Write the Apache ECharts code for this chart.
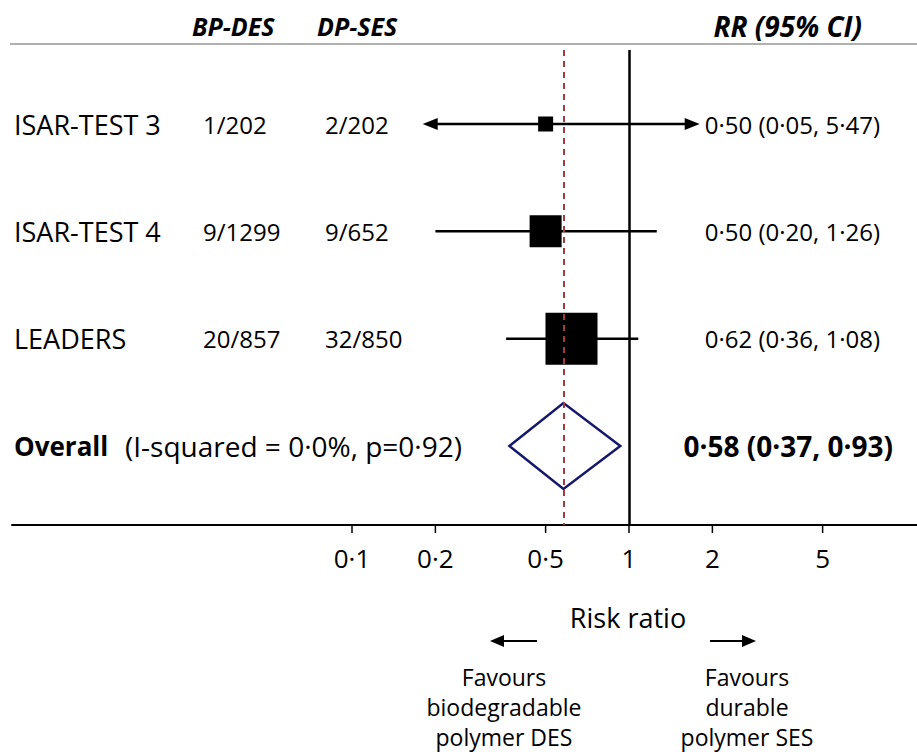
<!DOCTYPE html>
<html><head><meta charset="utf-8">
<script src="https://cdn.jsdelivr.net/npm/echarts@6/dist/echarts.min.js"></script>
<style>html,body{margin:0;padding:0;background:#fff}#c{width:917px;height:752px}</style>
</head><body><div id="c"></div>
<script>
// ---- data ----
const studies = ['ISAR-TEST 3', 'ISAR-TEST 4', 'LEADERS'];
const bpdesEvents = ['1/202', '9/1299', '20/857'];
const dpsesEvents = ['2/202', '9/652', '32/850'];
const rr = [0.50, 0.50, 0.62];
const ciLow = [0.05, 0.20, 0.36];
const ciHigh = [5.47, 1.26, 1.08];
const weights = [5.7, 25.9, 68.4];
const overallRR = 0.58, overallLow = 0.37, overallHigh = 0.93;
const overallLabel = '(I-squared = 0·0%, p=0·92)';
const tickValues = [0.1, 0.2, 0.5, 1, 2, 5];
const tickLabels = ['0·1', '0·2', '0·5', '1', '2', '5'];
const headers = ['BP-DES', 'DP-SES', 'RR (95% CI)'];

// ---- layout ----
const FONT = '"Open Sans", sans-serif';
const plotMin = 0.18, plotMax = 1.8;     // CI clipping range (arrows beyond)
const pxPerDecade = 277, oneX = 629, gridLeft = 12, W = 917;
const xMin = Math.pow(10, (gridLeft - oneX) / pxPerDecade);
const xMax = Math.pow(10, (W - oneX) / pxPerDecade);
const rowY0 = 124, rowStep = 107.33, gridTop = 50, axisY = 525;
const yMin = (gridTop - rowY0) / rowStep, yMax = (axisY - rowY0) / rowStep;
const fmt = v => v.toFixed(2).replace('.', '·');

const chart = echarts.init(document.getElementById('c'), null, {renderer: 'svg'});

const studyData = studies.map((s, i) => [rr[i], i, ciLow[i], ciHigh[i], weights[i]]);
const textData = studies.map((s, i) => [1, i]);

function studyRender(params, api) {
  const i = api.value(1);
  const c = api.coord([api.value(0), i]);
  const lo = api.value(2), hi = api.value(3);
  const pl = api.coord([Math.max(lo, plotMin), i]);
  const ph = api.coord([Math.min(hi, plotMax), i]);
  const AL = 15, AH = 6;
  const children = [];
  let x1 = pl[0], x2 = ph[0];
  if (lo < plotMin) {
    children.push({type: 'polygon', shape: {points: [[pl[0], pl[1]], [pl[0] + AL, pl[1] - AH], [pl[0] + AL, pl[1] + AH]]}, style: {fill: '#000'}});
    x1 = pl[0] + AL - 1;
  }
  if (hi > plotMax) {
    children.push({type: 'polygon', shape: {points: [[ph[0], ph[1]], [ph[0] - AL, ph[1] - AH], [ph[0] - AL, ph[1] + AH]]}, style: {fill: '#000'}});
    x2 = ph[0] - AL + 1;
  }
  children.push({type: 'line', shape: {x1: x1, y1: c[1], x2: x2, y2: c[1]}, style: {stroke: '#000', lineWidth: 2.5}});
  const s = 6.29 * Math.sqrt(api.value(4));
  children.push({type: 'rect', shape: {x: c[0] - s / 2, y: c[1] - s / 2, width: s, height: s}, style: {fill: '#000'}});
  return {type: 'group', children: children};
}

function textRender(params, api) {
  const i = params.dataIndex;
  const y = api.coord([1, i])[1];
  return {type: 'group', children: [
    {type: 'text', style: {x: 14, y: y, text: studies[i], fill: '#000', fontSize: 27, fontFamily: FONT, align: 'left', verticalAlign: 'middle'}},
    {type: 'text', style: {x: 203, y: y, text: bpdesEvents[i], fill: '#000', fontSize: 24, fontFamily: FONT, align: 'left', verticalAlign: 'middle'}},
    {type: 'text', style: {x: 325, y: y, text: dpsesEvents[i], fill: '#000', fontSize: 24, fontFamily: FONT, align: 'left', verticalAlign: 'middle'}},
    {type: 'text', style: {x: 880, y: y, text: fmt(rr[i]) + ' (' + fmt(ciLow[i]) + ', ' + fmt(ciHigh[i]) + ')', fill: '#000', fontSize: 24, fontFamily: FONT, align: 'right', verticalAlign: 'middle'}}
  ]};
}

function overallRender(params, api) {
  const i = api.value(1);
  const c = api.coord([api.value(0), i]);
  const pl = api.coord([api.value(2), i]);
  const ph = api.coord([api.value(3), i]);
  const h = 43;
  return {type: 'group', children: [
    {type: 'polygon', shape: {points: [[pl[0], c[1]], [c[0], c[1] - h], [ph[0], c[1]], [c[0], c[1] + h]]}, style: {fill: 'none', stroke: '#15176b', lineWidth: 2.5}},
    {type: 'text', style: {x: 14, y: c[1], text: 'Overall', fill: '#000', fontSize: 26, fontWeight: 'bold', fontFamily: FONT, align: 'left', verticalAlign: 'middle'}},
    {type: 'text', style: {x: 125, y: c[1], text: overallLabel, fill: '#000', fontSize: 28, fontFamily: FONT, align: 'left', verticalAlign: 'middle'}},
    {type: 'text', style: {x: 893, y: c[1], text: fmt(api.value(0)) + ' (' + fmt(api.value(2)) + ', ' + fmt(api.value(3)) + ')', fill: '#000', fontSize: 28, fontWeight: 'bold', fontFamily: FONT, align: 'right', verticalAlign: 'middle'}}
  ]};
}

function tickRender(params, api) {
  const p = api.coord([api.value(0), yMax]);
  return {type: 'group', children: [
    {type: 'line', shape: {x1: p[0], y1: p[1], x2: p[0], y2: p[1] + 8}, style: {stroke: '#000', lineWidth: 1.5}},
    {type: 'text', style: {x: p[0], y: p[1] + 33, text: tickLabels[params.dataIndex], fill: '#000', fontSize: 26, fontFamily: FONT, align: 'center', verticalAlign: 'middle'}}
  ]};
}

const txt = (t, x, y, size, extra) => ({type: 'text', style: Object.assign({text: t, x: x, y: y, fill: '#000', fontSize: size, fontFamily: FONT, align: 'center', verticalAlign: 'middle'}, extra || {})});
const hdr = {fontWeight: 'bold', fontStyle: 'italic'};

chart.setOption({
  animation: false,
  grid: {left: gridLeft, right: 0, top: gridTop, bottom: 752 - axisY},
  xAxis: {type: 'log', min: xMin, max: xMax, axisLine: {show: true, onZero: false, lineStyle: {color: '#000', width: 2}}, axisTick: {show: false}, axisLabel: {show: false}, splitLine: {show: false}},
  yAxis: {type: 'value', inverse: true, min: yMin, max: yMax, show: false},
  graphic: [
    {type: 'line', shape: {x1: 10, y1: 44, x2: 917, y2: 44}, style: {stroke: '#b0b0b0', lineWidth: 2}},
    txt(headers[0], 192, 26, 25, Object.assign({align: 'left'}, hdr)),
    txt(headers[1], 317, 26, 25, Object.assign({align: 'left'}, hdr)),
    txt(headers[2], 862, 26, 28, Object.assign({align: 'right'}, hdr)),
    txt('Risk ratio', 628, 617, 27),
    {type: 'line', shape: {x1: 503, y1: 641, x2: 537, y2: 641}, style: {stroke: '#000', lineWidth: 2}},
    {type: 'polygon', shape: {points: [[490, 641], [504, 635], [504, 647]]}, style: {fill: '#000'}},
    {type: 'line', shape: {x1: 710, y1: 641, x2: 743, y2: 641}, style: {stroke: '#000', lineWidth: 2}},
    {type: 'polygon', shape: {points: [[756, 641], [742, 635], [742, 647]]}, style: {fill: '#000'}},
    txt('Favours', 504, 677, 23), txt('biodegradable', 504, 707, 23), txt('polymer DES', 504, 737, 23),
    txt('Favours', 747, 677, 23), txt('durable', 747, 707, 23), txt('polymer SES', 747, 737, 23)
  ],
  series: [
    {type: 'custom', name: 'studies', clip: false, renderItem: studyRender, data: studyData, encode: {x: 0, y: 1},
      markLine: {symbol: 'none', silent: true, label: {show: false},
        data: [
          {xAxis: 1, lineStyle: {color: '#000', width: 2.5, type: 'solid'}},
          {xAxis: overallRR, lineStyle: {color: '#a33a3f', width: 2, type: [6, 5]}}
        ]}},
    {type: 'custom', name: 'rowtext', clip: false, renderItem: textRender, data: textData, encode: {x: 0, y: 1}},
    {type: 'custom', name: 'overall', clip: false, renderItem: overallRender, data: [[overallRR, 3, overallLow, overallHigh]], encode: {x: 0, y: 1}},
    {type: 'custom', name: 'ticks', clip: false, renderItem: tickRender, data: tickValues.map(v => [v, yMax]), encode: {x: 0, y: 1}}
  ]
});
</script></body></html>
